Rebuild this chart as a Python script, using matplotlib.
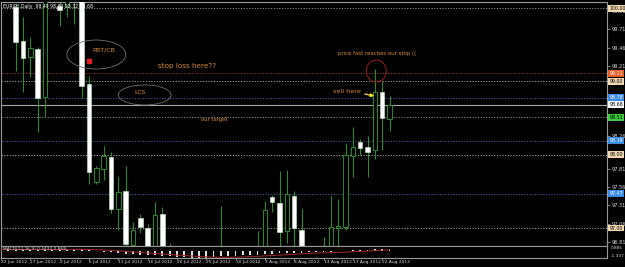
import matplotlib
matplotlib.use('Agg')
import matplotlib.pyplot as plt
from matplotlib.patches import Ellipse
from matplotlib.transforms import blended_transform_factory
import numpy as np

# ---------------- data ----------------
chart_title = "EURJPY,Daily  98.49 98.80 98.32 98.68"

opens  = [100.60, 100.40, 100.01, 99.55, 99.33, 99.44, 98.79, 100.95, 100.03, 100.02,
          100.45, 100.35, 98.96, 97.63, 97.80, 97.97, 97.26, 97.50, 96.77, 97.14,
          97.00, 96.50, 97.19, 96.45, 96.00, 95.35, 95.30, 94.85, 94.45, 94.55,
          95.90, 96.60, 96.50, 96.10, 96.30, 96.00, 95.40, 97.42, 97.34, 96.96,
          97.44, 96.98, 96.60, 96.25, 96.30, 96.40, 97.00, 97.02, 97.98, 98.17,
          98.11, 98.06, 98.86, 98.49]
highs  = [100.90, 100.50, 100.05, 99.88, 99.61, 99.47, 101.25, 101.05, 100.50, 100.60,
          100.65, 100.50, 99.08, 97.84, 98.12, 98.04, 97.70, 97.85, 97.08, 97.19,
          97.05, 97.35, 97.29, 96.80, 96.20, 95.45, 95.45, 95.05, 94.80, 96.00,
          97.30, 96.70, 96.70, 96.60, 96.70, 96.96, 97.37, 97.45, 97.78, 97.79,
          97.50, 97.26, 96.72, 96.35, 96.88, 97.44, 97.39, 98.16, 98.38, 98.21,
          98.25, 99.17, 99.00, 98.80]
lows   = [100.20, 100.15, 99.14, 98.86, 99.06, 98.31, 98.51, 100.80, 99.76, 99.88,
          99.78, 98.77, 97.60, 97.60, 97.65, 97.20, 96.98, 96.70, 96.70, 96.93,
          96.45, 96.40, 96.30, 95.80, 95.30, 95.20, 94.60, 94.20, 94.10, 94.40,
          95.70, 96.40, 95.90, 95.90, 95.80, 95.10, 95.30, 97.22, 96.70, 96.79,
          96.70, 96.40, 96.00, 96.15, 96.05, 96.30, 96.70, 96.97, 97.70, 97.99,
          97.70, 97.94, 98.06, 98.32]
closes = [100.45, 100.30, 99.54, 99.32, 99.45, 98.77, 100.95, 100.90, 99.97, 100.45,
          100.35, 98.94, 97.76, 97.82, 97.98, 97.26, 97.49, 96.78, 96.98, 97.01,
          96.55, 97.18, 96.45, 95.95, 95.40, 95.30, 94.85, 94.45, 94.55, 95.90,
          96.60, 96.50, 96.10, 96.30, 96.00, 95.40, 97.25, 97.36, 96.95, 97.46,
          97.00, 96.60, 96.25, 96.30, 96.40, 97.01, 97.03, 98.00, 98.11, 98.09,
          98.04, 98.86, 98.50, 98.68]

macd_main = [0.20, 0.22, 0.24, 0.22, 0.20, 0.12, 0.22, 0.28, 0.32, 0.35, 0.36, 0.25,
             0.08, -0.05, -0.15, -0.28, -0.38, -0.52, -0.62, -0.70, -0.80, -0.86, -0.94, -1.05,
             -1.15, -1.20, -1.28, -1.337, -1.32, -1.20, -1.05, -0.98, -0.92, -0.85, -0.80, -0.78,
             -0.65, -0.55, -0.50, -0.40, -0.35, -0.32, -0.30, -0.28, -0.25, -0.18, -0.12, 0.00,
             0.10, 0.15, 0.18, 0.30, 0.35, 0.40]
macd_signal = [0.25, 0.25, 0.24, 0.24, 0.23, 0.22, 0.22, 0.22, 0.23, 0.25, 0.27, 0.27,
               0.25, 0.20, 0.15, 0.08, 0.00, -0.10, -0.20, -0.30, -0.40, -0.50, -0.60, -0.70,
               -0.80, -0.88, -0.96, -1.05, -1.12, -1.17, -1.20, -1.20, -1.18, -1.14, -1.08, -1.02,
               -0.95, -0.88, -0.80, -0.72, -0.64, -0.56, -0.50, -0.44, -0.39, -0.34, -0.29, -0.24,
               -0.18, -0.12, -0.06, 0.02, 0.10, 0.18]
macd_label = "MACD(12,26,9) 0.4432 0.868"
macd_scale = [0.885, -1.337]

date_tick_index = [0, 4, 8, 12, 16, 20, 24, 28, 32, 36, 40, 44, 48, 52]
date_tick_labels = ["22 Jun 2012", "27 Jun 2012", "2 Jul 2012", "6 Jul 2012", "11 Jul 2012",
                    "16 Jul 2012", "20 Jul 2012", "25 Jul 2012", "30 Jul 2012", "3 Aug 2012",
                    "8 Aug 2012", "13 Aug 2012", "17 Aug 2012", "22 Aug 2012"]

price_ticks = [99.96, 99.71, 99.46, 99.21, 98.26, 97.81, 97.56, 97.31, 97.06, 96.81]

level_prices = [100.00, 99.11, 99.00, 98.78, 98.51, 98.19, 98.00, 97.47, 97.00]
level_line_colors = ['#8c8c8c', '#9a3a2a', '#9a9a9a', '#4a5a9a', '#7f8f7f',
                     '#4a5a9a', '#a8a8a8', '#4a5a9a', '#9a9a9a']
level_tag_colors = ['#f2d9b0', '#e8602c', '#f2d9b0', '#3a8ae6', '#3ccc3c',
                    '#3a8ae6', '#f2d9b0', '#3a8ae6', '#f2d9b0']
bid_price = 98.68

# ---------------- figure ----------------
W, H = 625, 267
fig = plt.figure(figsize=(6.25, 2.67), dpi=100, facecolor='black')
x_left, x_right = 1, 607
y_top, y_main_bot, y_macd_bot = 2, 246, 258
ax = fig.add_axes([x_left / W, 1 - y_main_bot / H, (x_right - x_left) / W, (y_main_bot - y_top) / H])
ax2 = fig.add_axes([x_left / W, 1 - y_macd_bot / H, (x_right - x_left) / W, (y_macd_bot - y_main_bot) / H])

frame_col = '#9a9a9a'
txt_col = '#d8d8d8'
for a in (ax, ax2):
    a.set_facecolor('black')
    for s in a.spines.values():
        s.set_color(frame_col)
        s.set_linewidth(0.8)
    a.set_xlim(0, 82.67)

ax.set_ylim(96.755, 100.083)

idx = np.arange(len(opens))
o = np.array(opens); c = np.array(closes); h = np.array(highs); l = np.array(lows)
bull = c >= o
green = '#2a8c2a'

# level lines
for p, lc in zip(level_prices, level_line_colors):
    ax.axhline(p, color=lc, lw=0.7, ls=(0, (1.2, 1.6)), zorder=1)
ax.axhline(bid_price, color='#a8a8a8', lw=0.8, zorder=1)

# candles
ax.vlines(idx, l, h, color=green, lw=0.75, zorder=2)
bw = 0.62
body_bot = np.minimum(o, c)
body_h = np.maximum(np.abs(c - o), 0.012)
ax.bar(idx[bull], body_h[bull], bottom=body_bot[bull], width=bw, color='black',
       edgecolor=green, linewidth=0.7, zorder=3)
ax.bar(idx[~bull], body_h[~bull], bottom=body_bot[~bull], width=bw, color='white',
       edgecolor='#c8f0c8', linewidth=0.4, zorder=3)

# price axis
ax.yaxis.tick_right()
ax.set_yticks(price_ticks)
ax.set_yticklabels([f"{v:.2f}" for v in price_ticks])
ax.tick_params(axis='y', colors=frame_col, labelcolor=txt_col, labelsize=3.6,
               length=2, width=0.6, pad=1.5, direction='out')
ax.set_xticks([])

bt = blended_transform_factory(ax.transAxes, ax.transData)
for p, tc in zip(level_prices, level_tag_colors):
    fg = 'white' if tc in ('#e8602c', '#3a8ae6') else 'black'
    ax.text(1.004, p, f"{p:.2f}", transform=bt, ha='left', va='center', fontsize=3.4,
            color=fg, clip_on=False, zorder=6,
            bbox=dict(boxstyle='square,pad=0.2', fc=tc, ec='none'))
ax.text(1.004, bid_price, f"{bid_price:.2f}", transform=bt, ha='left', va='center',
        fontsize=3.4, color='black', clip_on=False, zorder=6,
        bbox=dict(boxstyle='square,pad=0.2', fc='white', ec='none'))

# title
ax.text(0.003, 0.992, chart_title, transform=ax.transAxes, ha='left', va='top',
        fontsize=3.3, color='white', zorder=7)

# annotations
orange = '#d8883a'
ax.add_patch(Ellipse((13.0, 99.367), 8.05, 0.395, fill=False, ec='#707070', lw=0.6, zorder=4))
ax.text(14.0, 99.428, "PBT/CB", ha='center', va='center', fontsize=4.6, color=orange, zorder=5)
ax.plot([12.05], [99.274], marker='s', ms=2.2, color='#e02020', zorder=5)
ax.text(21.4, 99.21, "stop loss here??", ha='left', va='center', fontsize=5.2, color=orange, zorder=5)
ax.add_patch(Ellipse((19.6, 98.815), 7.2, 0.273, fill=False, ec='#707070', lw=0.6, zorder=4))
ax.text(19.0, 98.842, "LCS", ha='center', va='center', fontsize=4.4, color=orange, zorder=5)
ax.text(27.3, 98.487, "our target", ha='left', va='center', fontsize=3.8, color=orange, zorder=5)
ax.text(46.0, 99.38, "price fast reaches our stop ((", ha='left', va='center', fontsize=3.9,
        color=orange, zorder=5)
ax.add_patch(Ellipse((51.2, 99.142), 2.73, 0.30, fill=False, ec='#a01818', lw=0.7, zorder=4))
ax.text(45.3, 98.869, "sell here", ha='left', va='center', fontsize=4.6, color=orange, zorder=5)
ax.annotate("", xy=(51.3, 98.794), xytext=(49.25, 98.835),
            arrowprops=dict(arrowstyle='-|>', color='#f0e020', lw=0.9, mutation_scale=5), zorder=6)

# MACD panel
ax2.set_ylim(macd_scale[1], macd_scale[0])
ax2.bar(idx, macd_main, width=0.25, color='#e0e0e0', zorder=2)
ax2.plot(idx, macd_signal, color='#a02828', lw=0.7, zorder=3)
ax2.text(0.003, 0.93, macd_label, transform=ax2.transAxes, ha='left', va='top',
         fontsize=3.2, color=txt_col, zorder=5)
ax2.yaxis.tick_right()
ax2.set_yticks(macd_scale)
ax2.set_yticklabels([f"{v:.3f}" for v in macd_scale])
ax2.tick_params(axis='y', colors=frame_col, labelcolor=txt_col, labelsize=3.1,
                length=0, pad=2.5)
yl = ax2.get_yticklabels()
yl[0].set_va('top')
yl[1].set_va('bottom')
ax2.set_xticks(date_tick_index)
ax2.set_xticklabels(date_tick_labels)
ax2.tick_params(axis='x', colors=frame_col, labelcolor=txt_col, labelsize=3.2,
                length=1.5, width=0.6, pad=0.3, direction='out')
for t in ax2.get_xticklabels():
    t.set_ha('left')

fig.savefig('out.png', dpi=100, facecolor='black')
